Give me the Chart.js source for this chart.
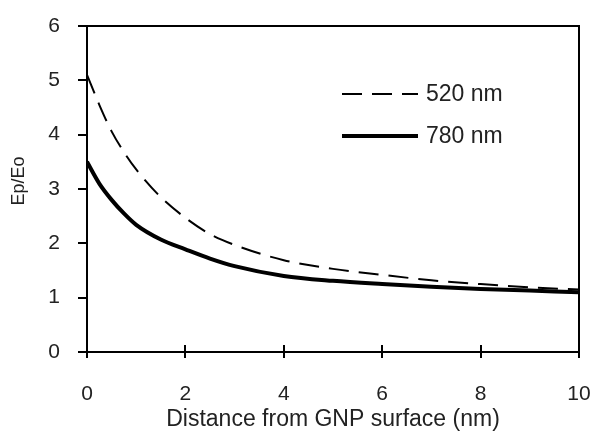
<!DOCTYPE html>
<html>
<head>
<meta charset="utf-8">
<script src="https://cdn.jsdelivr.net/npm/chart.js@4"></script>
<style>
  html, body { margin: 0; padding: 0; background: #fff; }
  #wrap { width: 600px; height: 443px; }
</style>
</head>
<body>
<div id="wrap"><canvas id="graph"></canvas></div>
<script>
// distance from surface (nm)
const distance = [0, 0.25, 0.5, 0.75, 1, 1.5, 2, 2.5, 3, 4, 5, 6, 7, 8, 9, 10];
// field enhancement Ep/Eo
const ep520 = [5.1, 4.55, 4.06, 3.68, 3.36, 2.85, 2.47, 2.17, 1.97, 1.69, 1.53, 1.42, 1.32, 1.25, 1.19, 1.15];
const ep780 = [3.5, 3.1, 2.8, 2.55, 2.34, 2.07, 1.89, 1.72, 1.58, 1.40, 1.31, 1.25, 1.20, 1.16, 1.13, 1.10];
const seriesNames = ['520 nm', '780 nm'];
const xTicks = [0, 2, 4, 6, 8, 10];
const yTicks = [0, 1, 2, 3, 4, 5, 6];
const yTitle = 'Ep/Eo';

const FONT = 'Liberation Sans, Arial, sans-serif';
Chart.defaults.font.family = FONT;
Chart.defaults.color = '#222';

const toPoints = (ys) => distance.map((x, i) => ({ x: x, y: ys[i] }));

// box around the plot, x ticks poking inward, y title and the legend inside
const frame = {
  id: 'frame',
  afterDraw(chart) {
    const { ctx, chartArea: a } = chart;
    const xs = chart.scales.x;
    ctx.save();
    ctx.strokeStyle = '#000';
    ctx.lineWidth = 2;
    ctx.strokeRect(a.left, a.top, a.right - a.left, a.bottom - a.top);
    xTicks.forEach(v => {
      const px = Math.round(xs.getPixelForValue(v));
      ctx.beginPath();
      ctx.moveTo(px, a.bottom);
      ctx.lineTo(px, a.bottom - 7);
      ctx.stroke();
    });

    // y title (sits a bit above the middle in the original)
    ctx.save();
    ctx.translate(19, 181);
    ctx.rotate(-Math.PI / 2);
    ctx.fillStyle = '#222';
    ctx.font = '18px ' + FONT;
    ctx.textAlign = 'center';
    ctx.textBaseline = 'middle';
    ctx.fillText(yTitle, 0, 0);
    ctx.restore();

    // legend
    const rows = [{ y: 94 }, { y: 136 }];
    chart.data.datasets.forEach((ds, i) => {
      ctx.beginPath();
      ctx.lineWidth = ds.borderWidth;
      ctx.setLineDash(ds.borderDash || []);
      ctx.moveTo(342, rows[i].y);
      ctx.lineTo(418, rows[i].y);
      ctx.stroke();
      ctx.setLineDash([]);
      ctx.fillStyle = '#222';
      ctx.font = '23px ' + FONT;
      ctx.textBaseline = 'middle';
      ctx.fillText(ds.label, 426, rows[i].y + 1);
    });
    ctx.restore();
  }
};

new Chart(document.getElementById('graph'), {
  type: 'line',
  data: {
    datasets: [
      {
        label: seriesNames[0],
        data: toPoints(ep520),
        borderColor: '#000',
        borderWidth: 2,
        borderDash: [20, 10],
        pointRadius: 0,
        cubicInterpolationMode: 'monotone',
        fill: false
      },
      {
        label: seriesNames[1],
        data: toPoints(ep780),
        borderColor: '#000',
        borderWidth: 4,
        pointRadius: 0,
        cubicInterpolationMode: 'monotone',
        fill: false
      }
    ]
  },
  options: {
    responsive: true,
    maintainAspectRatio: false,
    animation: false,
    layout: { padding: { left: 0, right: 21, top: 26, bottom: 0 } },
    plugins: {
      legend: { display: false },
      tooltip: { enabled: false }
    },
    scales: {
      x: {
        type: 'linear',
        min: 0,
        max: 10,
        afterFit: s => { s.height = 91; s.paddingLeft = 0; s.paddingRight = 0; },
        afterBuildTicks: s => { s.ticks = xTicks.map(v => ({ value: v })); },
        grid: { drawOnChartArea: false, color: '#000', lineWidth: 2, tickLength: 6 },
        border: { color: '#000', width: 2 },
        ticks: { font: { size: 21 }, padding: 24, maxRotation: 0 },
        title: {
          display: true,
          text: 'Distance from GNP surface (nm)',
          font: { size: 23 },
          padding: { top: 0, bottom: 10 }
        }
      },
      y: {
        min: 0,
        max: 6,
        afterFit: s => { s.width = 87; s.paddingTop = 0; s.paddingBottom = 0; },
        afterBuildTicks: s => { s.ticks = yTicks.map(v => ({ value: v })); },
        grid: { drawOnChartArea: false, color: '#000', lineWidth: 2, tickLength: 9 },
        border: { color: '#000', width: 2 },
        ticks: { font: { size: 21 }, padding: 18 },
        title: { display: false }
      }
    }
  },
  plugins: [frame]
});
</script>
</body>
</html>
